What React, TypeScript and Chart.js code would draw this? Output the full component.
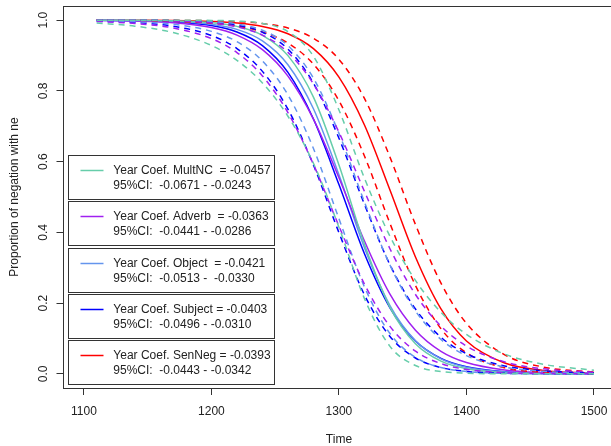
import React, { useEffect, useRef } from "react";
import { Chart, registerables } from "chart.js";

Chart.register(...registerables);

// ---------- data ----------
const years = [1110, 1140, 1170, 1200, 1220, 1240, 1260, 1280, 1300, 1320, 1340, 1360, 1380, 1400, 1430, 1460, 1500];

const multncFit = [0.9999, 0.9995, 0.9982, 0.9929, 0.9824, 0.9572, 0.8997, 0.7825, 0.5905, 0.3663, 0.1881, 0.085, 0.0359, 0.0147, 0.0038, 0.001, 0.0002];
const multncLow = [0.9918, 0.983, 0.9649, 0.9284, 0.8863, 0.8223, 0.7283, 0.5953, 0.4144, 0.2127, 0.0778, 0.0235, 0.0066, 0.0018, 0.0002, 0.0, 0.0];
const multncHigh = [1.0, 1.0, 0.9999, 0.9993, 0.9975, 0.9908, 0.9678, 0.8979, 0.7461, 0.5531, 0.389, 0.2641, 0.1738, 0.1116, 0.0557, 0.0272, 0.0103];

const adverbFit = [0.9992, 0.9976, 0.9929, 0.9791, 0.9578, 0.9165, 0.8416, 0.72, 0.5543, 0.3757, 0.2255, 0.1235, 0.0638, 0.0319, 0.011, 0.0037, 0.0009];
const adverbLow = [0.9961, 0.9907, 0.9779, 0.9478, 0.9083, 0.8424, 0.7386, 0.5922, 0.4177, 0.2537, 0.1341, 0.0642, 0.0289, 0.0126, 0.0035, 0.001, 0.0002];
const adverbHigh = [0.9998, 0.9994, 0.9977, 0.9918, 0.9811, 0.9576, 0.9089, 0.8198, 0.6831, 0.5157, 0.3536, 0.2244, 0.135, 0.0786, 0.0338, 0.0143, 0.0045];

const objectFit = [0.9997, 0.9991, 0.9968, 0.9886, 0.9739, 0.9415, 0.874, 0.7494, 0.5629, 0.3569, 0.1929, 0.0934, 0.0425, 0.0188, 0.0054, 0.0015, 0.0003];
const objectLow = [0.9984, 0.9957, 0.9883, 0.9683, 0.9391, 0.8846, 0.7887, 0.6372, 0.4386, 0.2458, 0.1139, 0.0468, 0.018, 0.0067, 0.0015, 0.0003, 0.0001];
const objectHigh = [1.0, 0.9998, 0.9991, 0.996, 0.9891, 0.9713, 0.9281, 0.8358, 0.6798, 0.4858, 0.3077, 0.1778, 0.0972, 0.0515, 0.0193, 0.0071, 0.0019];

const subjectFit = [0.9996, 0.9986, 0.9954, 0.9848, 0.9666, 0.9282, 0.8523, 0.7205, 0.5352, 0.3397, 0.1868, 0.093, 0.0438, 0.0201, 0.0061, 0.0018, 0.0004];
const subjectLow = [0.9974, 0.9934, 0.9829, 0.9566, 0.9198, 0.8552, 0.7482, 0.5905, 0.3992, 0.2234, 0.1057, 0.0448, 0.0178, 0.0069, 0.0016, 0.0004, 0.0];
const subjectHigh = [1.0, 0.9997, 0.9988, 0.9948, 0.9865, 0.9659, 0.9181, 0.8217, 0.6662, 0.479, 0.3085, 0.1833, 0.1036, 0.0569, 0.0225, 0.0088, 0.0025];

const senNegFit = [0.9999, 0.9996, 0.9988, 0.9961, 0.9918, 0.9822, 0.9617, 0.9196, 0.839, 0.7037, 0.5196, 0.3303, 0.1835, 0.0929, 0.0305, 0.0096, 0.002];
const senNegLow = [0.9996, 0.9989, 0.9969, 0.9913, 0.9834, 0.9669, 0.9351, 0.8756, 0.7722, 0.6159, 0.4253, 0.2497, 0.1275, 0.0592, 0.0171, 0.0047, 0.0008];
const senNegHigh = [1.0, 1.0, 0.9995, 0.9982, 0.996, 0.9905, 0.9776, 0.9489, 0.8891, 0.7787, 0.6128, 0.4221, 0.2567, 0.1427, 0.0539, 0.0194, 0.0049];

const xTicks = [1100, 1200, 1300, 1400, 1500];
const yTicks = [0, 0.2, 0.4, 0.6, 0.8, 1.0];

const legendLine1 = [
  "Year Coef. MultNC  = -0.0457",
  "Year Coef. Adverb  = -0.0363",
  "Year Coef. Object  = -0.0421",
  "Year Coef. Subject = -0.0403",
  "Year Coef. SenNeg = -0.0393",
];
const legendLine2 = [
  "95%CI:  -0.0671 - -0.0243",
  "95%CI:  -0.0441 - -0.0286",
  "95%CI:  -0.0513 -  -0.0330",
  "95%CI:  -0.0496 - -0.0310",
  "95%CI:  -0.0443 - -0.0342",
];

const COLORS = ["#66CDAA", "#A020F0", "#6495ED", "#0000FF", "#FF0000"];
const FONT = '12px "Liberation Sans", Arial, sans-serif';

const groups = [
  { fit: multncFit, low: multncLow, high: multncHigh },
  { fit: adverbFit, low: adverbLow, high: adverbHigh },
  { fit: objectFit, low: objectLow, high: objectHigh },
  { fit: subjectFit, low: subjectLow, high: subjectHigh },
  { fit: senNegFit, low: senNegLow, high: senNegHigh },
];

const toPts = (vals: number[]) => years.map((t, i) => ({ x: t, y: vals[i] }));

const extras = {
  id: "extras",
  afterDraw(chart: any) {
    const ctx = chart.ctx as CanvasRenderingContext2D;
    const { left, top, right, bottom } = chart.chartArea;
    ctx.save();
    // plot box
    ctx.strokeStyle = "#333";
    ctx.lineWidth = 1;
    ctx.strokeRect(Math.floor(left) + 0.5, Math.floor(top) + 0.5, Math.round(right - left), Math.round(bottom - top));

    // rotated y tick labels
    const ys = chart.scales.y;
    ctx.fillStyle = "#222";
    ctx.font = FONT;
    ys.ticks.forEach((t: any) => {
      const py = ys.getPixelForValue(t.value);
      ctx.save();
      ctx.translate(46.5, py);
      ctx.rotate(-Math.PI / 2);
      ctx.textAlign = "center";
      ctx.textBaseline = "alphabetic";
      ctx.fillText(t.value.toFixed(1), 0, 0);
      ctx.restore();
    });

    // y title
    ctx.save();
    ctx.translate(17.5, (top + bottom) / 2);
    ctx.rotate(-Math.PI / 2);
    ctx.textAlign = "center";
    ctx.textBaseline = "alphabetic";
    ctx.fillText("Proportion of negation with ne", 0, 0);
    ctx.restore();

    // x title
    ctx.textAlign = "center";
    ctx.textBaseline = "alphabetic";
    ctx.fillText("Time", (left + right) / 2, 442.5);

    // legend boxes
    const boxTops = [155, 201, 247.5, 294, 340];
    const bx = 68.5, bw = 206, bh = 44;
    boxTops.forEach((bt, i) => {
      const y0 = Math.round(bt) + 0.5;
      ctx.fillStyle = "#fff";
      ctx.fillRect(bx, y0, bw, bh);
      ctx.strokeStyle = "#333";
      ctx.lineWidth = 1;
      ctx.strokeRect(bx, y0, bw, bh);
      ctx.strokeStyle = COLORS[i];
      ctx.lineWidth = 1.5;
      ctx.beginPath();
      ctx.moveTo(80.5, y0 + 15);
      ctx.lineTo(103.5, y0 + 15);
      ctx.stroke();
      ctx.fillStyle = "#222";
      ctx.textAlign = "left";
      ctx.textBaseline = "middle";
      ctx.fillText(legendLine1[i], 113.3, y0 + 15.5);
      ctx.fillText(legendLine2[i], 113.3, y0 + 30);
    });
    ctx.restore();
  },
};

export default function App() {
  const ref = useRef<HTMLCanvasElement | null>(null);
  useEffect(() => {
    document.body.style.margin = "0";
    document.body.style.overflow = "hidden";
    const datasets: any[] = [];
    groups.forEach((g, i) => {
      datasets.push({
        data: toPts(g.low),
        borderColor: COLORS[i],
        borderWidth: 1.5,
        borderDash: [6, 5],
        pointRadius: 0,
        cubicInterpolationMode: "monotone",
      });
      datasets.push({
        data: toPts(g.high),
        borderColor: COLORS[i],
        borderWidth: 1.5,
        borderDash: [6, 5],
        pointRadius: 0,
        cubicInterpolationMode: "monotone",
      });
    });
    groups.forEach((g, i) => {
      datasets.push({
        data: toPts(g.fit),
        borderColor: COLORS[i],
        borderWidth: 1.5,
        pointRadius: 0,
        cubicInterpolationMode: "monotone",
      });
    });
    const chart = new Chart(ref.current as HTMLCanvasElement, {
      type: "line",
      data: { datasets },
      options: {
        animation: false,
        responsive: false,
        devicePixelRatio: 1,
        events: [],
        layout: { padding: { left: 56.5, right: 5.6, top: 6, bottom: 0 } },
        plugins: { legend: { display: false }, tooltip: { enabled: false } },
        scales: {
          x: {
            type: "linear",
            min: 1084,
            max: 1516,
            afterBuildTicks: (s: any) => {
              s.ticks = xTicks.map((v) => ({ value: v }));
            },
            afterFit: (s: any) => {
              s.height = 58;
            },
            grid: { drawOnChartArea: false, drawTicks: true, tickLength: 7, color: "#333" },
            border: { display: true, color: "#333" },
            ticks: {
              color: "#222",
              font: { family: '"Liberation Sans", Arial, sans-serif', size: 12 },
              padding: 9,
              maxRotation: 0,
              autoSkip: false,
              callback: (v: any) => String(v),
            },
          },
          y: {
            type: "linear",
            min: -0.04,
            max: 1.04,
            afterBuildTicks: (s: any) => {
              s.ticks = yTicks.map((v) => ({ value: v }));
            },
            afterFit: (s: any) => {
              s.width = 7;
            },
            grid: { drawOnChartArea: false, drawTicks: true, tickLength: 7, color: "#333" },
            border: { display: true, color: "#333" },
            ticks: { display: false },
          },
        },
      },
      plugins: [extras],
    });
    return () => chart.destroy();
  }, []);
  return (
    <div style={{ width: 611, height: 446, overflow: "hidden", position: "relative", background: "#fff" }}>
      <canvas ref={ref} width={620} height={446} style={{ display: "block" }} />
    </div>
  );
}
